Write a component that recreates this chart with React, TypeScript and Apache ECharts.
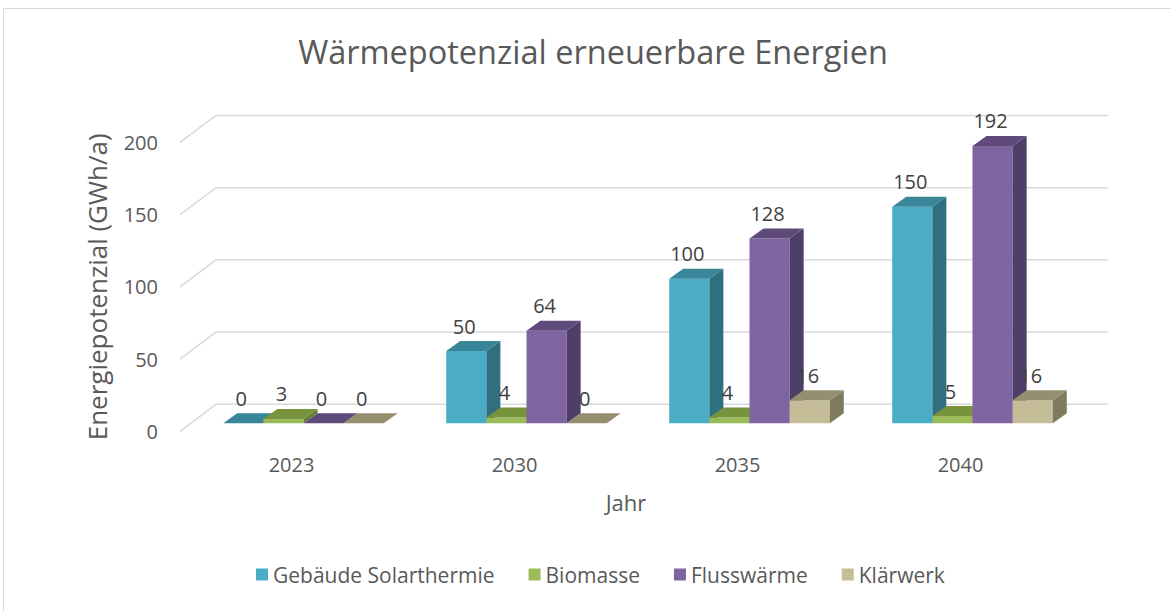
import React, { useEffect, useRef } from "react";
import * as echarts from "echarts";

const categories = ["2023", "2030", "2035", "2040"];
const seriesNames = ["Gebäude Solarthermie", "Biomasse", "Flusswärme", "Klärwerk"];
const gebaeude = [0, 50, 100, 150];
const biomasse = [3, 4, 4, 5];
const flusswaerme = [0, 64, 128, 192];
const klaerwerk = [0, 0, 16, 16];
const yTicks = [0, 50, 100, 150, 200];

const frontColors = ["#4BACC6", "#9BBB59", "#8064A2", "#C4BD97"];
const sideColors = ["#306F7F", "#66802F", "#4F3E67", "#807A5E"];
const topColors = ["#3A8699", "#77933C", "#5F4A7B", "#958F70"];

const FONT = "'Open Sans', sans-serif";
const DX = 14; // bar depth
const DY = -10;
const BACK_X = 24; // back wall offset
const BACK_Y = -19;
const FRONT_X = -12; // front floor edge offset
const FRONT_Y = 8;

export default function App() {
  const ref = useRef<HTMLDivElement>(null);
  useEffect(() => {
    if (!ref.current) return;
    const chart = echarts.init(ref.current, null, { renderer: "svg" });
    const allData = [gebaeude, biomasse, flusswaerme, klaerwerk];

    const barSeries = allData.map((vals, si) => ({
      type: "custom",
      name: seriesNames[si],
      xAxisIndex: 0,
      yAxisIndex: 0,
      z: 3 + si,
      itemStyle: { color: frontColors[si] },
      data: vals.map((v, i) => [i, v]),
      renderItem: (params: any, api: any) => {
        const ci = api.value(0);
        const v = api.value(1);
        const base = api.coord([ci, 0]);
        const topPt = api.coord([ci, v]);
        const band = api.size([1, 0])[0];
        const bw = band * 0.18;
        const x0 = base[0] + (si - 2) * bw;
        const x1 = x0 + bw;
        const yb = base[1];
        const yt = topPt[1];
        const children: any[] = [];
        if (yb - yt > 0.5) {
          children.push({
            type: "polygon",
            shape: { points: [[x0, yt], [x1, yt], [x1, yb], [x0, yb]] },
            style: { fill: frontColors[si] },
          });
          children.push({
            type: "polygon",
            shape: { points: [[x1, yt], [x1 + DX, yt + DY], [x1 + DX, yb + DY], [x1, yb]] },
            style: { fill: sideColors[si] },
          });
        }
        children.push({
          type: "polygon",
          shape: { points: [[x0, yt], [x0 + DX, yt + DY], [x1 + DX, yt + DY], [x1, yt]] },
          style: { fill: topColors[si] },
        });
        children.push({
          type: "text",
          z2: 100,
          style: {
            x: (x0 + x1) / 2 - 2,
            y: yt + DY - 15,
            text: String(v),
            fill: "#404040",
            fontSize: 20,
            fontFamily: FONT,
            align: "center",
            verticalAlign: "middle",
          },
        });
        return { type: "group", children };
      },
    }));

    const gridSeries = {
      type: "custom",
      name: "grid",
      xAxisIndex: 0,
      yAxisIndex: 0,
      z: 1,
      silent: true,
      data: yTicks.map((t) => [0, t]),
      renderItem: (params: any, api: any) => {
        const cs = params.coordSys;
        const y = api.coord([0, api.value(1)])[1];
        return {
          type: "polyline",
          shape: {
            points: [
              [cs.x + FRONT_X, y + FRONT_Y],
              [cs.x + BACK_X, y + BACK_Y],
              [cs.x + cs.width + BACK_X, y + BACK_Y],
            ],
          },
          style: { stroke: "#D9D9D9", lineWidth: 1.5, fill: "none" },
        };
      },
    };

    const option: any = {
      animation: false,
      backgroundColor: "#FFFFFF",
      textStyle: { fontFamily: FONT },
      title: {
        text: "Wärmepotenzial erneuerbare Energien",
        left: 588,
        textAlign: "center",
        top: 30,
        textStyle: { fontSize: 32.5, fontWeight: "normal", color: "#595959", fontFamily: FONT },
      },
      legend: {
        data: seriesNames,
        bottom: 21,
        left: 251,
        icon: "rect",
        itemWidth: 12,
        itemHeight: 12,
        itemGap: 34,
        textStyle: { fontSize: 21, color: "#595959", fontFamily: FONT },
      },
      graphic: [
        {
          type: "rect",
          silent: true,
          shape: { x: 3.5, y: 8.5, width: 1300, height: 800 },
          style: { fill: "none", stroke: "#D9D9D9", lineWidth: 1 },
        },
      ],
      grid: [
        { left: 192, right: 87, top: 134.4, bottom: 187.7 },
        { left: 180, right: 99, top: 142.4, bottom: 179.7 },
      ],
      xAxis: [
        { type: "category", gridIndex: 0, data: categories, show: false },
        {
          type: "category",
          gridIndex: 1,
          data: categories,
          axisLine: { show: false },
          axisTick: { show: false },
          axisLabel: { margin: 23, fontSize: 20, color: "#595959", fontFamily: FONT },
          name: "Jahr",
          nameLocation: "middle",
          nameGap: 60,
          nameTextStyle: { fontSize: 22, color: "#595959", fontFamily: FONT },
        },
      ],
      yAxis: [
        { type: "value", gridIndex: 0, min: 0, max: 200, interval: 50, show: false },
        {
          type: "value",
          gridIndex: 1,
          min: 0,
          max: 200,
          interval: 50,
          axisLine: { show: false },
          axisTick: { show: false },
          splitLine: { show: false },
          axisLabel: { margin: 22, fontSize: 20, color: "#595959", fontFamily: FONT },
          name: "Energiepotenzial (GWh/a)",
          nameLocation: "middle",
          nameGap: 70,
          nameTextStyle: { fontSize: 26, color: "#595959", fontFamily: FONT },
        },
      ],
      series: [gridSeries, ...barSeries],
    };
    chart.setOption(option);
    return () => chart.dispose();
  }, []);
  return (
    <div
      ref={ref}
      style={{ position: "fixed", left: 0, top: 0, width: 1171, height: 611 }}
    />
  );
}
